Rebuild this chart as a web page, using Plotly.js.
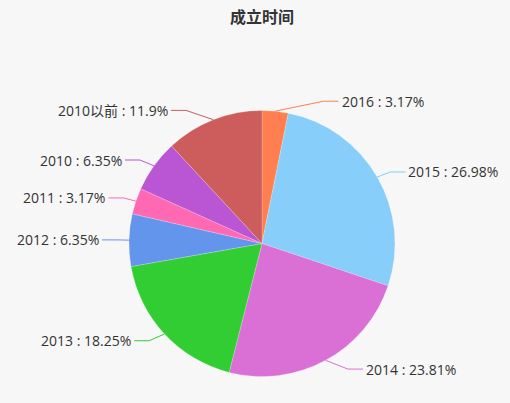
<!DOCTYPE html>
<html>
<head>
<meta charset="utf-8">
<script src="https://cdn.plot.ly/plotly-3.0.1.min.js"></script>
<style>
  html, body { margin: 0; padding: 0; background: #f7f7f7; }
  #chart { width: 510px; height: 403px; }
</style>
</head>
<body>
<div id="chart"></div>
<script>
// data (percent of companies by founding year)
var years = ['2016', '2015', '2014', '2013', '2012', '2011', '2010', '2010以前'];
var shares = [3.17, 26.98, 23.81, 18.25, 6.35, 3.17, 6.35, 11.9];
var colors = ['#ff7f50', '#87cefa', '#da70d6', '#32cd32', '#6495ed', '#ff69b4', '#ba55d3', '#cd5c5c'];

var W = 510, H = 403;
// pie placement in pixels
var cx = 262, cy = 243.5, r = 133;
var len1 = 10, len2 = 15, labelR = r + 30;

function px2x(px) { return px / W; }
function px2y(py) { return 1 - py / H; }

// pie trace
var pie = {
    type: 'pie',
    labels: years,
    values: shares,
    sort: false,
    direction: 'clockwise',
    rotation: 0,
    textinfo: 'none',
    hoverinfo: 'label+value',
    marker: { colors: colors, line: { color: 'rgba(255,255,255,0.4)', width: 0.5 } },
    domain: {
        x: [px2x(cx - r), px2x(cx + r)],
        y: [px2y(cy + r), px2y(cy - r)]
    },
    showlegend: false
};

/*
 * leader lines + labels, worked out from the slice angles
 * (edge point -> elbow -> label, label x pushed onto a circle)
 */
var total = shares.reduce(function (a, b) { return a + b; }, 0);
var shapes = [], annotations = [];
var acc = 0;
shares.forEach(function (v, i) {
    var mid = (acc + v / 2) / total * 2 * Math.PI;
    acc += v;
    var s = Math.sin(mid), c = Math.cos(mid);
    var dir = s < 0 ? -1 : 1;
    var x1 = cx + r * s, y1 = cy - r * c;
    var y = cy - (r + len1) * c;
    var dy = Math.abs(y - cy);
    var lx = cx + dir * Math.sqrt(labelR * labelR - dy * dy);
    var endx = lx - dir * 3;
    var ex = endx - dir * len2;

    shapes.push({
        type: 'path',
        xref: 'paper', yref: 'paper',
        path: 'M ' + px2x(x1) + ' ' + px2y(y1) +
              ' L ' + px2x(ex) + ' ' + px2y(y) +
              ' L ' + px2x(endx) + ' ' + px2y(y),
        line: { color: colors[i], width: 1 }
    });

    annotations.push({
        xref: 'paper', yref: 'paper',
        x: px2x(lx - dir * 2), y: px2y(y),
        xanchor: dir < 0 ? 'right' : 'left',
        yanchor: 'middle',
        showarrow: false,
        text: years[i] + ' : ' + v + '%',
        font: { size: 14, color: '#333333' }
    });
});

var layout = {
    width: W,
    height: H,
    margin: { l: 0, r: 0, t: 0, b: 0, pad: 0 },
    paper_bgcolor: '#f7f7f7',
    plot_bgcolor: '#f7f7f7',
    font: { family: '"Open Sans", "Noto Sans CJK SC", sans-serif', color: '#333333' },
    title: {
        text: '<b>成立时间</b>',
        x: px2x(262), xanchor: 'center',
        y: px2y(17), yanchor: 'middle',
        xref: 'paper', yref: 'paper',
        font: { family: '"Noto Sans CJK SC", sans-serif', size: 16, color: '#333333' }
    },
    shapes: shapes,
    annotations: annotations,
    showlegend: false
};

Plotly.newPlot('chart', [pie], layout, { displayModeBar: false, staticPlot: true });
</script>
</body>
</html>
